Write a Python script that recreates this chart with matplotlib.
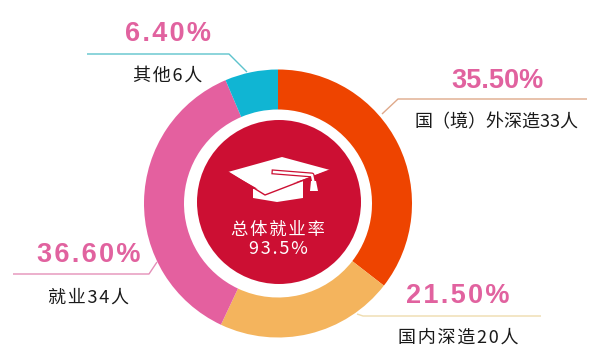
import matplotlib
matplotlib.use('Agg')
import matplotlib.pyplot as plt
from matplotlib.patches import Circle, Polygon

plt.rcParams['font.family'] = ['Noto Sans CJK SC', 'DejaVu Sans']

# Slices, clockwise from the top
names = ['国（境）外深造33人', '国内深造20人', '就业34人', '其他6人']
shares = [35.5, 21.5, 36.6, 6.4]
share_labels = ['35.50%', '21.50%', '36.60%', '6.40%']
colors = ['#ee4400', '#f4b45d', '#e4609f', '#10b5d3']
center_title = '总体就业率'
center_value = '93.5%'

H = 364
HAIR = '\u200a'
RED = '#cc0f33'


# Reference is measured in pixels from the top left
def py(y):
    return H - y


def leader(xs, ys, color):
    ax.plot(xs, [py(y) for y in ys], color=color, lw=1.0, solid_capstyle='butt')


def shape(points, color='white', z=4):
    ax.add_patch(Polygon([(x, py(y)) for x, y in points], closed=True, fc=color, ec='none', zorder=z))


fig = plt.figure(figsize=(6, 3.64), dpi=100)
ax = fig.add_axes([0, 0, 1, 1])

ax.pie(shares, colors=colors, startangle=90, counterclock=False, center=(278, py(203.5)),
       radius=134, wedgeprops={'width': 40, 'linewidth': 0}, frame=True)
ax.add_patch(Circle((279, py(202)), 82, fc=RED, ec='none', zorder=3))

# Graduation cap
shape([(253, 189), (253, 198), (277, 202), (303, 198), (303, 181)])
shape([(228, 172), (282, 157), (330, 170), (265, 193)])
ax.plot([228, 265, 330], [py(172), py(195), py(170)], color=RED, lw=1.0, zorder=4.5)
ax.plot([274, 312, 313.5], [py(172), py(175), py(182)], color=RED, lw=3.6, zorder=4.6)
ax.plot([274, 312, 313.5], [py(172), py(175), py(182)], color='white', lw=1.8, zorder=4.7)
shape([(311, 181), (316, 181), (318, 191), (310, 191)], z=4.8)

ax.text(278, py(230), HAIR.join(center_title), color='white', fontsize=12.5, fontweight='medium',
        ha='center', va='center', zorder=5)
ax.text(278, py(248.5), HAIR.join(center_value), color='white', fontsize=13, fontweight='medium',
        ha='center', va='center', zorder=5)

# Leader lines
leader([382, 398, 587], [114, 99, 99], '#dfa98a')
leader([357, 363, 541], [314, 316, 316], '#efdcae')
leader([157, 149, 13], [262, 274, 274], '#e58fb8')
leader([247, 229, 87], [72, 54, 54], '#5dc3cc')

# Share and count labels, only the top right one is set without tracking
share_pos = [(497, 81), (458, 296), (89, 255), (168, 34)]
name_pos = [(496, 122), (458, 338), (89, 298), (168, 76)]
for i in range(len(names)):
    share_text = share_labels[i] if i == 0 else HAIR.join(share_labels[i])
    name_text = names[i] if i == 0 else HAIR.join(names[i])
    ax.text(share_pos[i][0], py(share_pos[i][1]), share_text, color='#e1629f', fontsize=19.5,
            fontweight='bold', family=['Liberation Sans', 'DejaVu Sans'], ha='center', va='center')
    ax.text(name_pos[i][0], py(name_pos[i][1]), name_text, color='#1a1a1a', fontsize=13,
            fontweight='medium', ha='center', va='center')

ax.set_xlim(0, 600)
ax.set_ylim(0, H)
ax.set_aspect('equal')
ax.axis('off')
fig.savefig('out.png', dpi=100)
